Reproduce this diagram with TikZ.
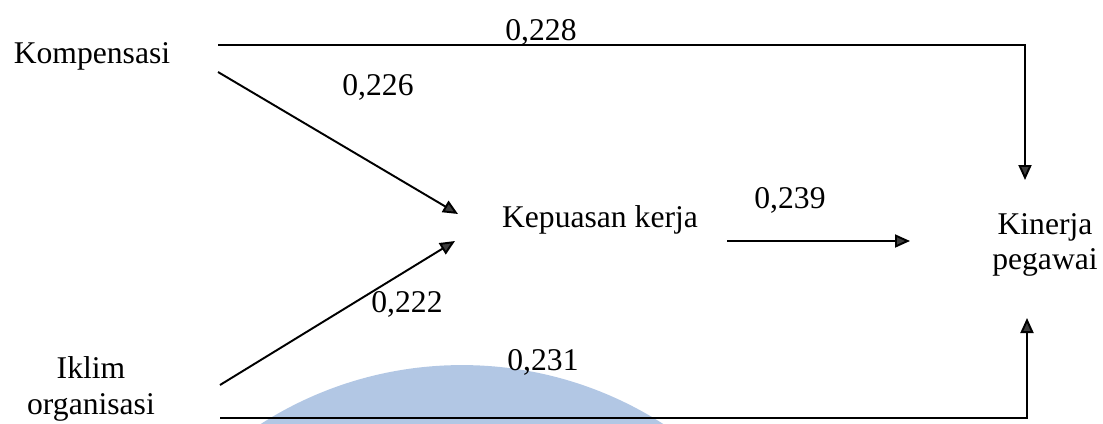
\documentclass[tikz,border=0pt]{standalone}
\usepackage{fontspec}
\setmainfont{Liberation Serif}
\usetikzlibrary{arrows.meta}
\definecolor{stampblue}{RGB}{178,199,228}
\definecolor{tipgray}{RGB}{60,60,60}

\begin{document}
\begin{tikzpicture}[x=0.02cm, y=-0.02cm,
    lbl/.style={inner sep=0pt, align=center, font=\fontsize{18}{20}\selectfont},
    num/.style={inner sep=0pt, anchor=base, font=\fontsize{18}{20}\selectfont},
    ln/.style={line width=1pt},
    arr/.style={line width=1.1pt, -{Triangle[length=0.3cm, width=0.26cm, fill=tipgray]}}]
    \useasboundingbox (0,0) rectangle (1103,423);

    % Stamp behind the drawing
    \begin{scope}
        \clip (0,0) rectangle (1103,423);
        \fill[stampblue] (462,738) circle[radius=7.46cm];
    \end{scope}

    % Variables
    \node[lbl, anchor=base] (komp) at (92,63) {Kompensasi};
    \node[lbl, anchor=base] (kep) at (600,227) {Kepuasan kerja};
    \node[lbl] (kin) at (1045,245) {Kinerja\\pegawai};
    \node[lbl] (ikl) at (91,389) {Iklim\\organisasi};

    % Line ends
    \coordinate (kompA) at (218,45);
    \coordinate (kompB) at (218,72);
    \coordinate (iklA) at (220,385);
    \coordinate (iklB) at (220,418);
    \coordinate (kepIn1) at (458,214);
    \coordinate (kepIn2) at (455,241);
    \coordinate (kepOut) at (727,241);
    \coordinate (kinIn) at (910,241);
    \coordinate (kinTop) at (1025,180);
    \coordinate (kinBot) at (1027,318);

    % Paths
    \draw[arr] (kompA) -| (kinTop);
    \draw[arr] (kompB) -- (kepIn1);
    \draw[arr] (iklA) -- (kepIn2);
    \draw[arr] (kepOut) -- (kinIn);
    \draw[arr] (iklB) -| (kinBot);

    % Path coefficients
    \node[num] (c228) at (541,40) {0,228};
    \node[num] (c226) at (378,95) {0,226};
    \node[num] (c239) at (790,208) {0,239};
    \node[num] (c222) at (407,312) {0,222};
    \node[num] (c231) at (543,370) {0,231};
\end{tikzpicture}
\end{document}
